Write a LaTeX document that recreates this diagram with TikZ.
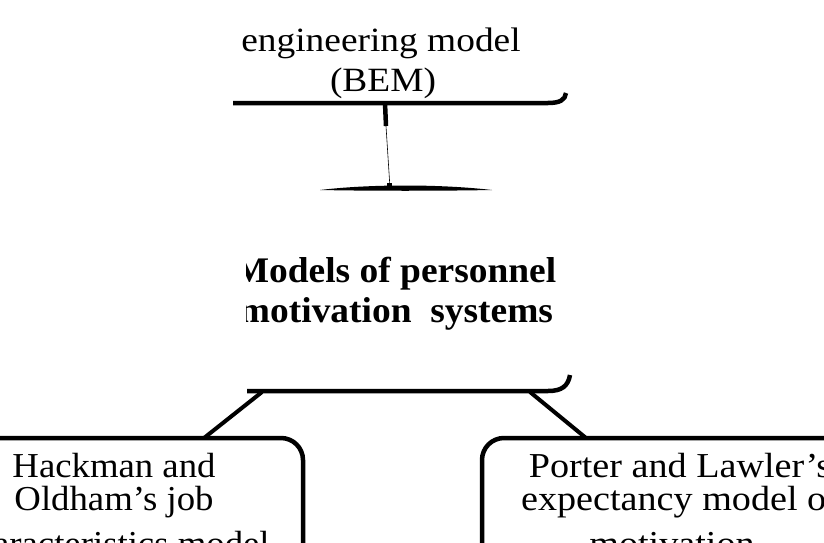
\documentclass[tikz,border=0pt]{standalone}
\usepackage{fontspec}
\setmainfont{Liberation Serif}
\usetikzlibrary{positioning}
\newcommand{\widen}[2]{\scalebox{#1}[1]{#2}}
\tikzset{
    boxline/.style={line width=4.5pt, rounded corners=22pt},
    link/.style={line width=4pt},
    plaintext/.style={font=\fontsize{35}{35}\selectfont, inner sep=0pt, anchor=base},
    toptext/.style={font=\fontsize{34}{34}\selectfont, inner sep=0pt, anchor=base},
    boldtext/.style={font=\fontsize{36}{36}\selectfont\bfseries, inner sep=0pt, anchor=base}
}

\begin{document}
\begin{tikzpicture}[x=1pt, y=-1pt]
    \useasboundingbox (0,0) rectangle (824,543);
    \clip (0,0) rectangle (824,543);

    \coordinate (bemfoot) at (385,103);
    \coordinate (bemneck) at (386,126);
    \coordinate (midhead) at (390,188);
    \coordinate (midfootL) at (262,392);
    \coordinate (midfootR) at (530,392);
    \coordinate (hackhead) at (204,438);
    \coordinate (porthead) at (586,438);

    \node[toptext] (bemA) at (381,52) {\widen{1.1}{engineering model}};
    \node[toptext] (bemB) at (383,91) {\widen{1.1}{(BEM)}};
    \draw[line width=4.5pt] (233,103) -- (548,103) .. controls (560,103) and (565,100) .. (566,93);

    \draw[line width=4.5pt] (bemfoot) -- (bemneck);
    \draw[line width=0.6pt] (bemneck) -- (midhead);
    \fill (320,190) .. controls (370,184) and (440,184) .. (492,190) .. controls (440,191) and (370,191) .. cycle;
    \fill (387,183) rectangle (392,190);

    \begin{scope}
        \clip (246,150) rectangle (600,400);
        \node[boldtext] (motA) at (395,282) {\widen{1.04}{Models of personnel}};
        \node[boldtext] (motB) at (396,322) {\widen{1.04}{motivation\ \ systems}};
    \end{scope}
    \draw[line width=4.5pt] (247,391) -- (548,391) .. controls (562,391) and (568,386) .. (570,375);

    \draw[link] (midfootL) -- (hackhead);
    \draw[link] (midfootR) -- (porthead);

    \draw[boxline] (0,438) -- (303,438) -- (303,600);
    \node[plaintext] (hackA) at (114,477) {\widen{1.05}{Hackman and}};
    \node[plaintext] (hackB) at (114,510) {\widen{1.05}{Oldham’s job}};
    \node[plaintext] (hackC) at (114,555) {\widen{1.05}{characteristics model}};

    \draw[boxline] (482,600) -- (482,438) -- (900,438);
    \node[plaintext] (portA) at (680,477) {\widen{1.09}{Porter and Lawler’s}};
    \node[plaintext] (portB) at (680,510) {\widen{1.09}{expectancy model of}};
    \node[plaintext] (portC) at (672,555) {\widen{1.09}{motivation}};
\end{tikzpicture}
\end{document}
